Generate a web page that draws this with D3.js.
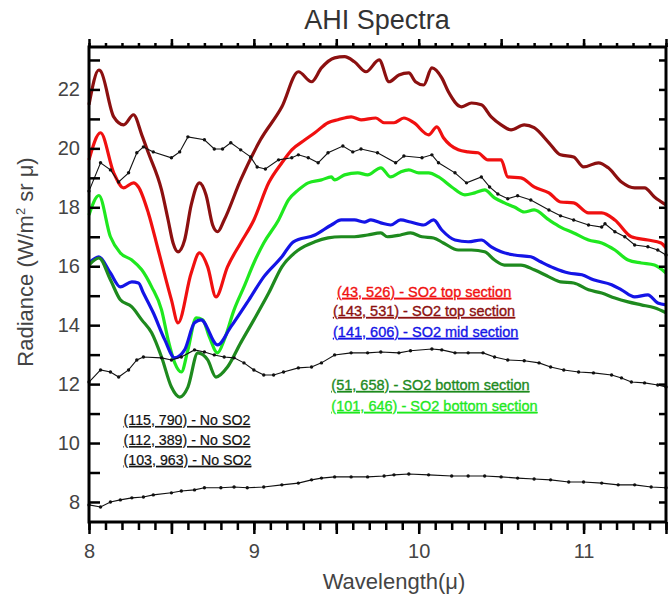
<!DOCTYPE html>
<html lang="en">
<head>
<meta charset="UTF-8">
<script src="https://d3js.org/d3.v7.min.js"></script>
<style>
  body { margin: 0; background: #fff; }
  svg { font-family: "Liberation Sans", Arial, sans-serif; }
</style>
<title>AHI Spectra</title>
</head>
<body>
<div id="chart"></div>
<script>
// [wavelength (micron), radiance]
var so2Top143 = [[8.00,21.48],[8.06,22.66],[8.07,22.63],[8.15,21.07],[8.21,20.80],[8.27,21.14],[8.32,20.46],[8.36,19.85],[8.44,18.59],[8.48,17.57],[8.51,16.79],[8.54,16.49],[8.58,16.89],[8.62,18.08],[8.67,18.83],[8.71,18.42],[8.75,17.40],[8.78,17.17],[8.82,17.57],[8.92,18.93],[9.04,20.29],[9.17,21.41],[9.27,22.60],[9.35,22.26],[9.41,22.73],[9.49,23.07],[9.55,23.11],[9.61,22.94],[9.68,22.60],[9.76,23.00],[9.82,22.26],[9.88,22.49],[9.94,22.56],[9.98,22.26],[10.03,22.15],[10.08,22.73],[10.14,22.39],[10.18,21.92],[10.26,21.41],[10.32,21.54],[10.38,21.48],[10.44,21.07],[10.50,20.80],[10.56,20.63],[10.64,20.80],[10.70,20.70],[10.79,20.19],[10.86,19.78],[10.94,19.71],[11.00,19.37],[11.09,19.51],[11.15,19.34],[11.23,18.86],[11.31,18.66],[11.37,18.66],[11.43,18.35],[11.50,18.08]];

var so2Top43 = [[8.00,19.61],[8.07,20.53],[8.15,19.17],[8.21,18.66],[8.27,18.83],[8.30,18.69],[8.36,17.81],[8.42,16.55],[8.50,14.86],[8.54,14.08],[8.62,15.77],[8.67,16.45],[8.72,15.98],[8.77,14.96],[8.84,15.98],[8.92,16.79],[9.00,17.57],[9.09,18.83],[9.17,19.51],[9.23,19.95],[9.31,20.29],[9.37,20.53],[9.45,20.87],[9.51,20.97],[9.59,21.07],[9.65,20.97],[9.74,21.03],[9.79,20.87],[9.85,20.87],[9.91,21.03],[9.97,20.87],[10.06,20.46],[10.11,20.73],[10.15,20.36],[10.24,19.95],[10.30,19.88],[10.36,19.85],[10.42,19.61],[10.50,19.61],[10.54,19.03],[10.62,19.00],[10.70,18.69],[10.79,18.49],[10.86,18.18],[10.94,18.15],[11.03,17.81],[11.11,17.81],[11.19,17.57],[11.29,17.00],[11.39,16.89],[11.47,16.79],[11.50,16.62]];

var so2Bottom101 = [[8.00,17.74],[8.06,18.40],[8.13,17.00],[8.19,16.45],[8.26,16.21],[8.32,15.88],[8.38,15.30],[8.44,14.52],[8.48,13.50],[8.52,12.72],[8.56,12.41],[8.60,13.16],[8.65,14.25],[8.69,14.18],[8.73,13.60],[8.78,13.06],[8.82,13.50],[8.88,14.52],[8.94,15.30],[9.00,16.11],[9.06,16.79],[9.15,17.57],[9.21,18.25],[9.27,18.59],[9.33,18.83],[9.41,18.93],[9.47,19.03],[9.49,18.93],[9.55,19.10],[9.63,19.17],[9.69,19.10],[9.77,19.34],[9.83,19.03],[9.89,19.20],[9.94,19.27],[10.00,19.17],[10.06,19.17],[10.12,19.03],[10.20,18.69],[10.28,18.42],[10.34,18.49],[10.40,18.59],[10.46,18.32],[10.52,18.15],[10.58,18.01],[10.64,17.84],[10.70,17.91],[10.79,17.57],[10.86,17.33],[10.94,17.13],[11.03,16.89],[11.11,16.79],[11.19,16.55],[11.27,16.21],[11.35,16.11],[11.43,16.04],[11.50,15.77]];

var so2Mid141 = [[8.00,16.11],[8.06,16.32],[8.13,15.77],[8.19,15.30],[8.26,15.47],[8.30,15.43],[8.33,15.09],[8.39,14.42],[8.46,13.50],[8.52,12.89],[8.58,13.16],[8.64,14.08],[8.68,14.18],[8.78,13.33],[8.86,13.94],[8.97,14.86],[9.06,15.64],[9.17,16.32],[9.24,16.83],[9.37,17.06],[9.47,17.40],[9.53,17.57],[9.61,17.57],[9.67,17.50],[9.71,17.57],[9.77,17.47],[9.83,17.40],[9.89,17.57],[9.95,17.50],[10.03,17.40],[10.09,17.57],[10.14,17.23],[10.22,16.89],[10.30,16.83],[10.38,16.89],[10.44,16.66],[10.50,16.49],[10.58,16.38],[10.68,16.32],[10.74,16.15],[10.82,15.94],[10.91,15.77],[10.99,15.71],[11.06,15.54],[11.17,15.37],[11.23,15.20],[11.31,14.96],[11.39,15.03],[11.45,14.75],[11.50,14.69]];

var so2Bottom51 = [[8.00,16.04],[8.06,16.28],[8.13,15.54],[8.19,14.86],[8.26,14.62],[8.32,14.18],[8.38,13.74],[8.44,12.92],[8.50,11.90],[8.55,11.56],[8.60,11.90],[8.66,13.06],[8.72,12.82],[8.77,12.24],[8.84,12.58],[8.92,13.40],[9.00,14.18],[9.09,15.09],[9.17,15.98],[9.27,16.55],[9.37,16.83],[9.45,16.96],[9.53,17.00],[9.61,17.00],[9.69,17.06],[9.77,17.13],[9.81,17.00],[9.89,17.06],[9.95,17.13],[10.02,17.00],[10.09,16.96],[10.15,16.79],[10.24,16.55],[10.32,16.55],[10.40,16.49],[10.46,16.21],[10.52,16.04],[10.62,16.04],[10.70,15.88],[10.79,15.64],[10.86,15.47],[10.94,15.43],[11.03,15.20],[11.11,15.09],[11.19,14.92],[11.27,14.79],[11.35,14.69],[11.43,14.59],[11.50,14.42]];

var noSO2a = [[8.00,18.55],[8.07,19.51],[8.13,19.27],[8.18,18.86],[8.24,19.17],[8.29,19.85],[8.33,20.05],[8.39,19.88],[8.50,19.68],[8.55,19.88],[8.60,20.39],[8.70,20.29],[8.76,19.98],[8.81,19.98],[8.86,20.19],[8.92,19.95],[8.98,19.71],[9.02,19.37],[9.07,19.30],[9.15,19.61],[9.23,19.68],[9.27,19.78],[9.33,19.68],[9.39,19.51],[9.45,19.85],[9.54,20.08],[9.60,19.88],[9.65,19.98],[9.75,19.85],[9.86,19.51],[9.91,19.74],[10.02,19.68],[10.08,19.78],[10.12,19.51],[10.22,19.17],[10.29,18.83],[10.38,19.03],[10.43,18.69],[10.48,18.45],[10.54,18.29],[10.60,18.39],[10.68,18.25],[10.79,17.91],[10.86,17.71],[10.94,17.57],[11.03,17.40],[11.11,17.33],[11.13,17.44],[11.19,17.17],[11.25,17.00],[11.31,16.72],[11.39,16.66],[11.45,16.55],[11.50,16.38]];

var noSO2b = [[8.00,12.07],[8.07,12.48],[8.13,12.41],[8.18,12.24],[8.24,12.48],[8.29,12.82],[8.33,12.92],[8.44,12.89],[8.50,12.82],[8.56,12.92],[8.64,13.16],[8.70,13.09],[8.76,12.99],[8.82,12.92],[8.88,12.89],[8.94,12.72],[9.00,12.48],[9.06,12.31],[9.12,12.31],[9.18,12.41],[9.27,12.55],[9.35,12.58],[9.41,12.72],[9.49,12.99],[9.59,13.06],[9.69,13.06],[9.77,13.09],[9.88,13.06],[9.95,13.13],[10.08,13.19],[10.14,13.16],[10.22,13.06],[10.30,13.06],[10.39,13.06],[10.46,12.92],[10.54,12.82],[10.64,12.79],[10.73,12.72],[10.80,12.58],[10.88,12.48],[10.97,12.41],[11.06,12.38],[11.17,12.31],[11.23,12.21],[11.29,12.07],[11.37,12.04],[11.45,11.97],[11.50,11.90]];

var noSO2c = [[8.00,7.90],[8.07,7.83],[8.13,8.00],[8.19,8.07],[8.26,8.14],[8.33,8.17],[8.39,8.24],[8.50,8.31],[8.56,8.37],[8.64,8.41],[8.70,8.48],[8.80,8.48],[8.88,8.51],[8.96,8.48],[9.06,8.51],[9.17,8.58],[9.27,8.64],[9.35,8.75],[9.41,8.81],[9.49,8.85],[9.59,8.85],[9.69,8.85],[9.79,8.88],[9.85,8.92],[9.94,8.95],[10.06,8.92],[10.20,8.88],[10.30,8.88],[10.40,8.88],[10.50,8.85],[10.60,8.81],[10.70,8.78],[10.80,8.75],[10.91,8.68],[11.00,8.68],[11.11,8.64],[11.21,8.58],[11.31,8.58],[11.41,8.51],[11.50,8.48]];

var xMajorTicks = [8, 8.5, 9, 9.5, 10, 10.5, 11, 11.5];
var xLabelTicks = [8, 9, 10, 11];
var yTicks = [8, 9, 10, 11, 12, 13, 14, 15, 16, 17, 18, 19, 20, 21, 22, 23];

var coloredSeries = [
  {name: "(143, 531) - SO2 top section", color: "#8c1010", data: so2Top143},
  {name: "(43, 526) - SO2 top section", color: "#f01010", data: so2Top43},
  {name: "(101, 646) - SO2 bottom section", color: "#1fe81f", data: so2Bottom101},
  {name: "(141, 606) - SO2 mid section", color: "#1414e6", data: so2Mid141},
  {name: "(51, 658) - SO2 bottom section", color: "#1e8a1e", data: so2Bottom51}
];
var blackSeries = [
  {name: "(115, 790) - No SO2", data: noSO2a},
  {name: "(112, 389) - No SO2", data: noSO2b},
  {name: "(103, 963) - No SO2", data: noSO2c}
];

var width = 670, height = 595;
var margin = {top: 47, right: 4, bottom: 73, left: 89};

var svg = d3.select("#chart").append("svg")
    .attr("width", width)
    .attr("height", height);

var x = d3.scaleLinear()
    .domain([8, 11.5])
    .range([margin.left, width - margin.right]);

var y = d3.scaleLinear()
    .domain([7.32, 23.44])
    .range([height - margin.bottom, margin.top]);

var smooth = d3.line()
    .x(d => x(d[0]))
    .y(d => y(d[1]))
    .curve(d3.curveMonotoneX);

var line = d3.line()
    .x(d => x(d[0]))
    .y(d => y(d[1]));

// colored spectra
svg.append("g")
  .selectAll("path")
  .data(coloredSeries)
  .join("path")
    .attr("d", d => smooth(d.data))
    .attr("fill", "none")
    .attr("stroke", d => d.color)
    .attr("stroke-width", 3.2)
    .attr("stroke-linejoin", "round");

// black spectra with small markers
var blk = svg.append("g");
blk.selectAll("path")
  .data(blackSeries)
  .join("path")
    .attr("d", d => line(d.data))
    .attr("fill", "none")
    .attr("stroke", "#111")
    .attr("stroke-width", 1.1);
blk.selectAll("g")
  .data(blackSeries)
  .join("g")
  .selectAll("circle")
  .data(d => d.data)
  .join("circle")
    .attr("cx", d => x(d[0]))
    .attr("cy", d => y(d[1]))
    .attr("r", 1.7)
    .attr("fill", "#111");

// axes
var yb = height - margin.bottom;
var xMinor = d3.range(8, 11.51, 0.1).map(v => +v.toFixed(1));

svg.append("g")
    .attr("transform", `translate(0,${yb})`)
    .call(d3.axisBottom(x).tickValues(xMinor).tickSize(8).tickFormat(""))
    .call(g => g.select(".domain").remove());
svg.append("g")
    .attr("transform", `translate(0,${yb})`)
    .call(d3.axisBottom(x).tickValues(xMajorTicks).tickSize(12).tickPadding(10)
        .tickFormat(d => xLabelTicks.includes(d) ? d : ""))
    .call(g => g.select(".domain").remove())
    .call(g => g.selectAll("text").attr("font-size", 20).attr("fill", "#444"));

svg.append("g")
    .attr("transform", `translate(0,${margin.top})`)
    .call(d3.axisTop(x).tickValues(xMinor).tickSize(4).tickFormat(""))
    .call(g => g.select(".domain").remove());
svg.append("g")
    .attr("transform", `translate(0,${margin.top})`)
    .call(d3.axisTop(x).tickValues(xMajorTicks).tickSize(8).tickFormat(""))
    .call(g => g.select(".domain").remove());

svg.append("g")
    .attr("transform", `translate(${margin.left},0)`)
    .call(d3.axisLeft(y).tickValues(yTicks).tickSize(-11).tickPadding(9)
        .tickFormat(d => d % 2 === 0 ? d : ""))
    .call(g => g.select(".domain").remove())
    .call(g => g.selectAll("text").attr("font-size", 20).attr("fill", "#444"));

svg.append("g")
    .attr("transform", `translate(${width - margin.right},0)`)
    .call(d3.axisRight(y).tickValues(yTicks).tickSize(-7).tickFormat(""))
    .call(g => g.select(".domain").remove());

svg.selectAll(".tick line").attr("stroke", "#000").attr("stroke-width", 2.5);

// frame
svg.append("rect")
    .attr("x", margin.left)
    .attr("y", margin.top)
    .attr("width", width - margin.right - margin.left)
    .attr("height", yb - margin.top)
    .attr("fill", "none")
    .attr("stroke", "#000")
    .attr("stroke-width", 3);

// titles
svg.append("text")
    .attr("x", 377)
    .attr("y", 29)
    .attr("text-anchor", "middle")
    .attr("font-size", 27)
    .attr("fill", "#333")
    .text("AHI Spectra");

svg.append("text")
    .attr("x", 394)
    .attr("y", 589)
    .attr("text-anchor", "middle")
    .attr("font-size", 22)
    .attr("fill", "#444")
    .text("Wavelength(\u03bc)");

var yl = svg.append("text")
    .attr("transform", "translate(33,262) rotate(-90)")
    .attr("text-anchor", "middle")
    .attr("font-size", 22)
    .attr("fill", "#444");
yl.append("tspan").text("Radiance (W/m");
yl.append("tspan").attr("dy", -8).attr("font-size", 13).text("2");
yl.append("tspan").attr("dy", 8).text(" sr \u03bc)");

// legend labels
var legendRight = [
  {s: coloredSeries[1], v: 14.96, w: 9.505},
  {s: coloredSeries[0], v: 14.31, w: 9.48},
  {s: coloredSeries[3], v: 13.60, w: 9.48},
  {s: coloredSeries[4], v: 11.80, w: 9.47},
  {s: coloredSeries[2], v: 11.09, w: 9.47}
];
svg.append("g")
  .selectAll("text")
  .data(legendRight)
  .join("text")
    .attr("x", d => x(d.w))
    .attr("y", d => y(d.v))
    .attr("font-size", 14.5)
    .attr("fill", d => d.s.color)
    .attr("stroke", d => d.s.color)
    .attr("stroke-width", 0.35)
    .attr("text-decoration", "underline")
    .text(d => d.s.name);

var legendLeft = [10.61, 9.93, 9.26];
svg.append("g")
  .selectAll("text")
  .data(blackSeries)
  .join("text")
    .attr("x", x(8.21))
    .attr("y", (d, i) => y(legendLeft[i]))
    .attr("font-size", 14.2)
    .attr("fill", "#111")
    .attr("stroke", "#111")
    .attr("stroke-width", 0.2)
    .attr("text-decoration", "underline")
    .text(d => d.name);
</script>
</body>
</html>
